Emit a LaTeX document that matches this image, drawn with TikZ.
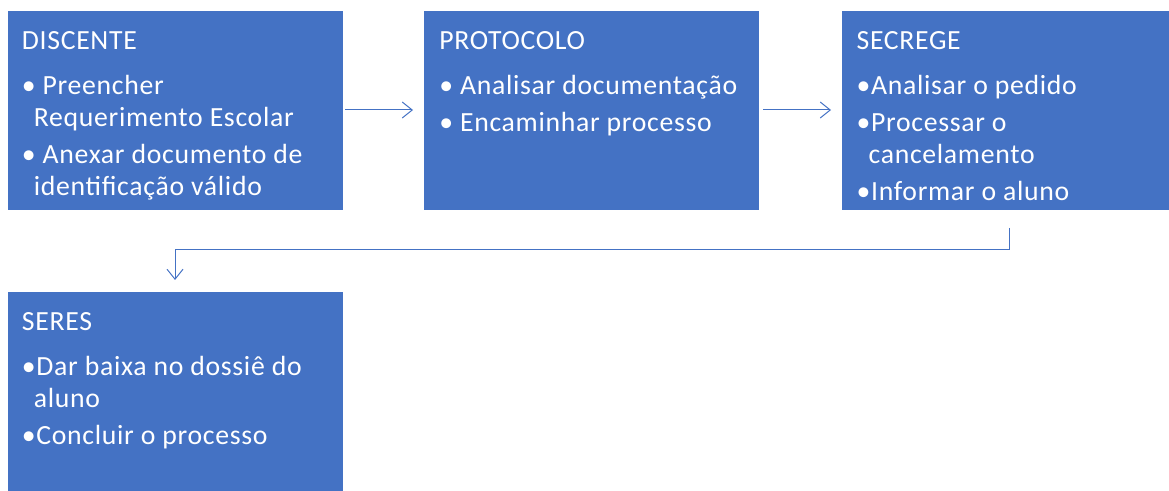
\documentclass[tikz,border=0pt]{standalone}
\usepackage{fontspec}
\setmainfont{Carlito}[LetterSpace=2.5]
\usetikzlibrary{arrows.meta,positioning}
\definecolor{stageblue}{HTML}{4472C4}
\newcommand{\hang}{\hspace*{9pt}}

\begin{document}
\begin{tikzpicture}[x=0.75pt,y=-0.75pt,
    stage/.style={fill=stageblue,draw=white,line width=0.6pt,minimum width=252pt,minimum height=150pt,inner sep=0pt,outer sep=0pt},
    stagetext/.style={inner sep=0pt,text=white,align=left,font=\fontsize{20.8}{24}\selectfont},
    flow/.style={-{Straight Barb[length=7.5pt,width=12pt]},stageblue,line width=0.75pt}]

    % Frame of the picture
    \useasboundingbox (0,0) rectangle (1169,491);

    % Boxes
    \node [stage,anchor=north west] (disc) at (7,10) {};
    \node [stage,right=60pt of disc] (prot) {};
    \node [stage,right=61.5pt of prot] (secr) {};
    \node [stage,below=60.75pt of disc] (seres) {};

    % DISCENTE
    \node [stagetext,below right=16pt and 11pt of disc.north west] (disc-t) {DISCENTE\\[9.75pt]
        \textbullet\ Preencher\\
        \hang Requerimento Escolar\\[3.75pt]
        \textbullet\ Anexar documento de\\
        \hang identificação válido};

    % PROTOCOLO
    \node [stagetext,below right=16pt and 12pt of prot.north west] (prot-t) {PROTOCOLO\\[9.75pt]
        \textbullet\ Analisar documentação\\[3.75pt]
        \textbullet\ Encaminhar processo};

    % SECREGE
    \node [stagetext,below right=16pt and 11.5pt of secr.north west] (secr-t) {SECREGE\\[9.75pt]
        \textbullet Analisar o pedido\\[3.75pt]
        \textbullet Processar o\\
        \hang cancelamento\\[3.75pt]
        \textbullet Informar o aluno};

    % SERES
    \node [stagetext,below right=16pt and 11pt of seres.north west] (seres-t) {SERES\\[9.75pt]
        \textbullet Dar baixa no dossiê do\\
        \hang aluno\\[3.75pt]
        \textbullet Concluir o processo};

    % Connectors
    \draw [flow,shorten <=1.5pt,shorten >=7.5pt] (disc) -- (prot);
    \draw [flow,shorten <=3pt,shorten >=7.5pt] (prot) -- (secr);
    \draw [flow,shorten <=13.5pt,shorten >=8.25pt] (secr.south) -- ++(0,40) -| (seres.north);

\end{tikzpicture}
\end{document}
